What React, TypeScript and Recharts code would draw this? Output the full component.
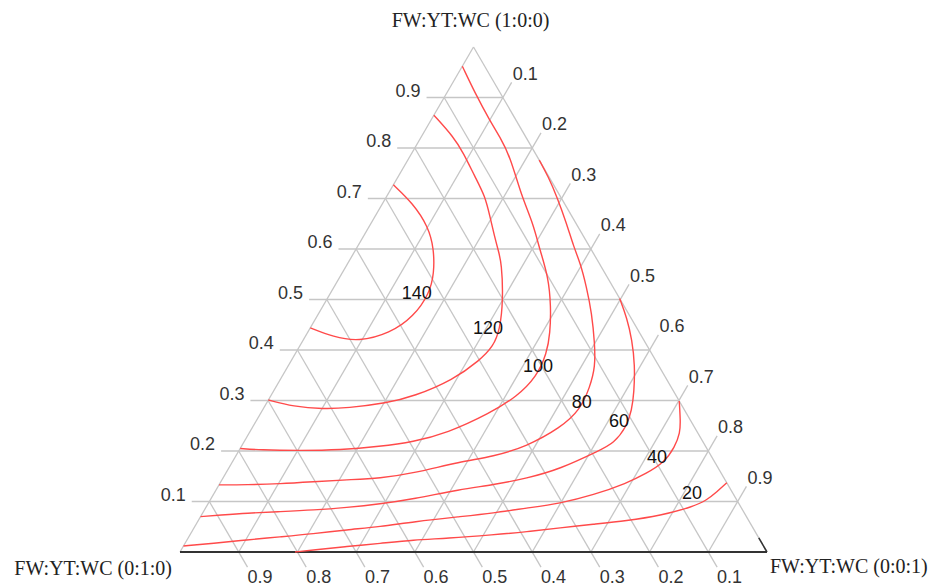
import React from 'react';
import { ComposedChart, XAxis, YAxis, Line, Scatter, ReferenceLine } from 'recharts';

// Ternary compositions given as [FW, WC]; YT = 1 - FW - WC
const contour140 = [[0.727,0],[0.690,0.052],[0.644,0.101],[0.601,0.132],[0.552,0.157],[0.512,0.169],[0.466,0.165],[0.433,0.141],[0.4165,0.096],[0.426,0.048],[0.444,0]];
const contour120 = [[0.865,0],[0.822,0.055],[0.790,0.088],[0.743,0.131],[0.704,0.168],[0.664,0.196],[0.624,0.224],[0.598,0.243],[0.572,0.262],[0.499,0.301],[0.440,0.325],[0.407,0.330],[0.380,0.321],[0.341,0.295],[0.308,0.244],[0.295,0.205],[0.285,0.142],[0.283,0.103],[0.288,0.049],[0.301,0]];
const contour100 = [[0.962,0],[0.908,0.049],[0.855,0.100],[0.822,0.134],[0.783,0.171],[0.704,0.230],[0.651,0.276],[0.598,0.314],[0.545,0.355],[0.486,0.389],[0.433,0.414],[0.394,0.428],[0.347,0.434],[0.308,0.420],[0.275,0.391],[0.235,0.337],[0.218,0.288],[0.209,0.236],[0.202,0.172],[0.201,0.104],[0.202,0.035],[0.205,0]];
const contour80 = [[0.776,0.224],[0.743,0.256],[0.704,0.290],[0.651,0.333],[0.605,0.368],[0.572,0.396],[0.525,0.430],[0.473,0.465],[0.413,0.500],[0.367,0.524],[0.327,0.535],[0.281,0.541],[0.246,0.525],[0.209,0.486],[0.189,0.439],[0.179,0.388],[0.156,0.320],[0.146,0.268],[0.143,0.213],[0.139,0.158],[0.135,0.103],[0.133,0.047],[0.133,0]];
const contour60 = [[0.502,0.498],[0.463,0.530],[0.420,0.560],[0.370,0.590],[0.315,0.616],[0.281,0.629],[0.248,0.637],[0.215,0.631],[0.202,0.615],[0.164,0.565],[0.146,0.518],[0.133,0.467],[0.124,0.415],[0.105,0.345],[0.095,0.293],[0.088,0.240],[0.083,0.186],[0.080,0.131],[0.077,0.075],[0.073,0.032],[0.070,0]];
const contour40 = [[0.299,0.701],[0.261,0.722],[0.236,0.734],[0.208,0.739],[0.176,0.736],[0.156,0.717],[0.136,0.693],[0.113,0.648],[0.096,0.599],[0.087,0.547],[0.077,0.495],[0.070,0.442],[0.060,0.368],[0.050,0.316],[0.044,0.262],[0.036,0.209],[0.030,0.155],[0.024,0.102],[0.017,0.048],[0.012,0]];
const contour20 = [[0.137,0.863],[0.119,0.855],[0.103,0.846],[0.090,0.830],[0.072,0.782],[0.062,0.730],[0.055,0.676],[0.048,0.624],[0.040,0.571],[0.034,0.517],[0.027,0.441],[0.024,0.386],[0.017,0.332],[0.011,0.279],[0.004,0.225],[0,0.196]];

const contours = [contour140, contour120, contour100, contour80, contour60, contour40, contour20];

const contourLevels = ['140', '120', '100', '80', '60', '40', '20'];
const contourLabelPos = [[0.513,0.147],[0.4436,0.303],[0.370,0.425],[0.297,0.536],[0.2594,0.618],[0.188,0.7186],[0.1168,0.814]];

const tickValues = [0.1, 0.2, 0.3, 0.4, 0.5, 0.6, 0.7, 0.8, 0.9];
const tickLabels = ['0.1', '0.2', '0.3', '0.4', '0.5', '0.6', '0.7', '0.8', '0.9'];

const vertexTitles = ['FW:YT:WC (1:0:0)', 'FW:YT:WC (0:1:0)', 'FW:YT:WC (0:0:1)'];

// ternary -> cartesian data space (x = WC + FW/2, y = FW)
const toXY = (fw: number, wc: number) => ({ x: wc + fw / 2, y: fw });

const W = 931, H = 587;
const E = 0.03; // tick extension (in composition units)
const XMIN = -180 / 587, XMAX = (W - 180) / 587, YMIN = (552 - H) / 505, YMAX = 552 / 505;

const GRID = '#c6c6c6';
const RED = '#ff4a4a';
const SANS = 'Liberation Sans, Arial, sans-serif';
const SERIF = 'Liberation Serif, Times New Roman, serif';

type Seg = [{ x: number; y: number }, { x: number; y: number }];
const gridSegs: Seg[] = [];
tickValues.forEach((t) => {
  gridSegs.push([toXY(t, -E), toXY(t, 1 - t)]); // FW const (with left tick)
  gridSegs.push([toXY(0, t), toXY(1 - t + E, t)]); // WC const (with right tick)
  gridSegs.push([toXY(-E, 1 - t + E), toXY(1 - t, 0)]); // YT const (with bottom tick)
});
const edgeSegs: Seg[] = [
  [toXY(0, 0), toXY(1, 0)],
  [toXY(0, 1), toXY(1, 0)],
];

const leftLabels = tickValues.map((t, i) => ({ ...toXY(t, -E), text: tickLabels[i] }));
const rightLabels = tickValues.map((t, i) => ({ ...toXY(1 - t + E, t), text: tickLabels[i] }));
const bottomLabels = tickValues.map((t, i) => ({ ...toXY(-E, 1 - t + E), text: tickLabels[i] }));
const contourLabels = contourLevels.map((lv, i) => ({ ...toXY(contourLabelPos[i][0], contourLabelPos[i][1]), text: lv }));
const titleTop = [{ ...toXY(1, 0), text: vertexTitles[0] }];
const titleLeft = [{ ...toXY(0, 0), text: vertexTitles[1] }];
const titleRight = [{ ...toXY(0, 1), text: vertexTitles[2] }];

const getText = (p: any) => (p.payload && p.payload.text) ?? p.text;

const mkShape = (dx: number, dy: number, anchor: string, size: number, family: string, fill: string) => (p: any) => (
  <text x={p.cx + dx} y={p.cy + dy} textAnchor={anchor as any} fontSize={size} fontFamily={family} fill={fill}>
    {getText(p)}
  </text>
);

export default function App() {
  return (
    <div style={{ position: 'fixed', left: 0, top: 0, width: W, height: H, background: '#fff' }}>
      <ComposedChart width={W} height={H} margin={{ top: 0, right: 0, bottom: 0, left: 0 }}>
        <XAxis dataKey="x" type="number" domain={[XMIN, XMAX]} allowDataOverflow hide />
        <YAxis dataKey="y" type="number" domain={[YMIN, YMAX]} allowDataOverflow hide />
        {gridSegs.map((s, i) => (
          <ReferenceLine key={'g' + i} segment={s} stroke={GRID} strokeWidth={1.3} ifOverflow="visible" />
        ))}
        {edgeSegs.map((s, i) => (
          <ReferenceLine key={'e' + i} segment={s} stroke={GRID} strokeWidth={1.3} ifOverflow="visible" />
        ))}
        <ReferenceLine segment={[toXY(0, 0), toXY(0, 1)]} stroke="#333" strokeWidth={2} ifOverflow="visible" />
        <ReferenceLine segment={[toXY(0.028, 0.972), toXY(0, 1)]} stroke="#333" strokeWidth={1.5} ifOverflow="visible" />
        {contours.map((c, i) => (
          <Line
            key={'c' + i}
            data={c.map(([fw, wc]) => toXY(fw, wc))}
            dataKey="y"
            type="basis"
            stroke={RED}
            strokeWidth={1.4}
            dot={false}
            activeDot={false}
            isAnimationActive={false}
          />
        ))}
        <Scatter data={leftLabels} dataKey="y" isAnimationActive={false} shape={mkShape(-6, -1, 'end', 18, SANS, '#333')} />
        <Scatter data={rightLabels} dataKey="y" isAnimationActive={false} shape={mkShape(1, -2.5, 'start', 18, SANS, '#333')} />
        <Scatter data={bottomLabels} dataKey="y" isAnimationActive={false} shape={mkShape(0, 16, 'start', 18, SANS, '#333')} />
        <Scatter data={contourLabels} dataKey="y" isAnimationActive={false} shape={mkShape(0, 6.4, 'middle', 18, SANS, '#111')} />
        <Scatter data={titleTop} dataKey="y" isAnimationActive={false} shape={mkShape(-3, -20, 'middle', 20, SERIF, '#222')} />
        <Scatter data={titleLeft} dataKey="y" isAnimationActive={false} shape={mkShape(-8, 23, 'end', 20, SERIF, '#222')} />
        <Scatter data={titleRight} dataKey="y" isAnimationActive={false} shape={mkShape(3, 21, 'start', 20, SERIF, '#222')} />
      </ComposedChart>
    </div>
  );
}
